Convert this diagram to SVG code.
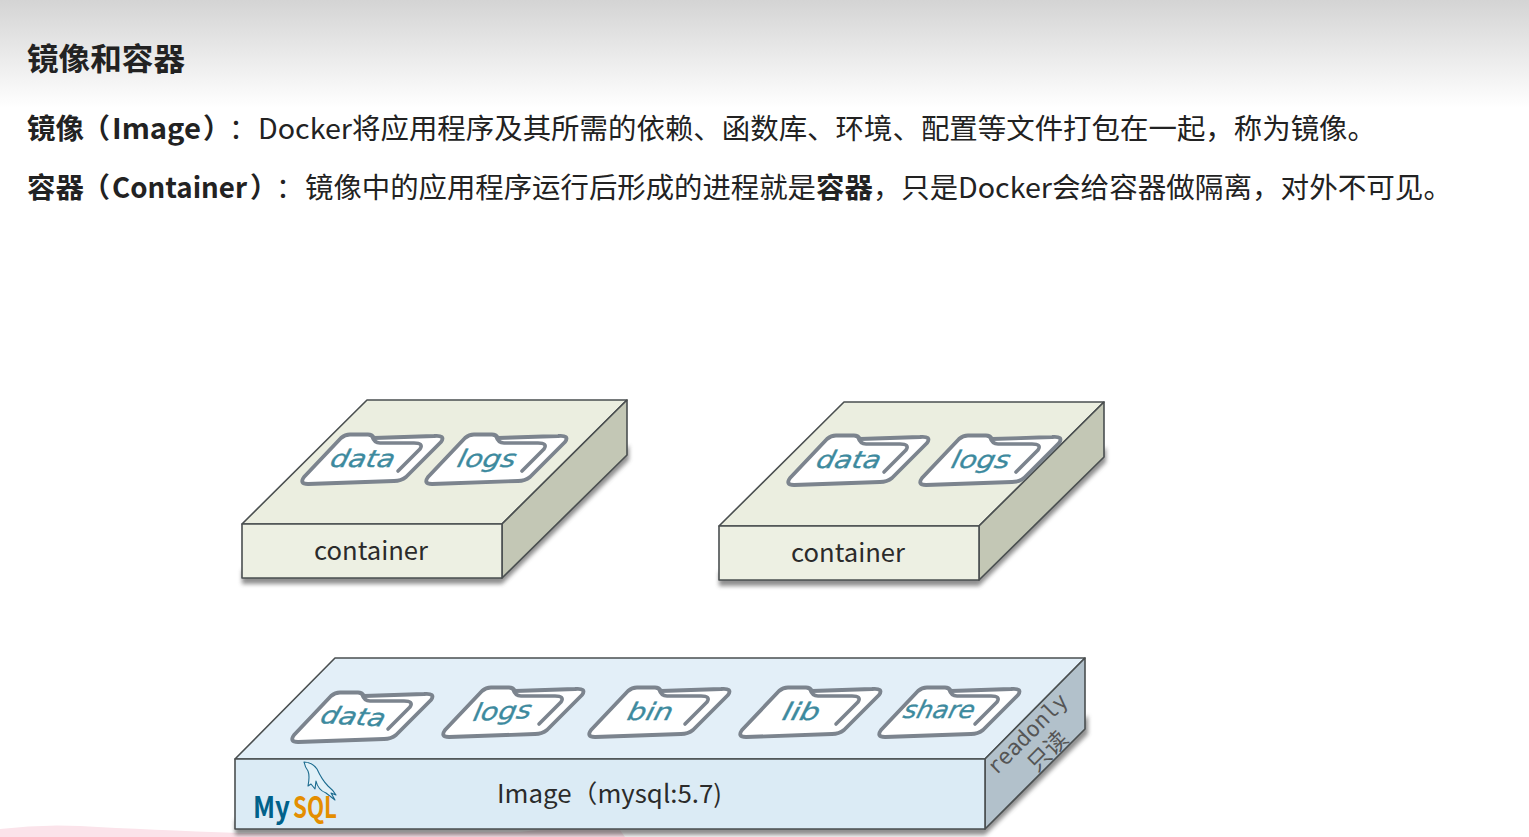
<svg xmlns="http://www.w3.org/2000/svg" width="1529" height="837" viewBox="0 0 1529 837">
<style>
text{font-family:"Noto Sans CJK SC","Noto Sans",sans-serif;fill:#2a2a2a}
.h{font-size:28px;fill:#222}
.b{font-weight:700;fill:#222}
.lbl{font-size:25px;fill:#2b2b2b}
.f{font-family:"DejaVu Sans",sans-serif;font-style:italic;font-size:24px;fill:#3d8a9e;stroke:#3d8a9e;stroke-width:.35}
.e{stroke:#4a4f50;stroke-width:1.6;stroke-linejoin:round}
.c-top{fill:#ebeee0}.c-front{fill:#edf0e3}.c-side{fill:#c3c7b5}
.i-top{fill:#e3eff8}.i-front{fill:#dbebf5}.i-side{fill:#b2c1cb}
</style>
<defs>
<linearGradient id="bg" x1="0" y1="0" x2="0" y2="1"><stop offset="0" stop-color="#d4d4d4"/><stop offset="1" stop-color="#ffffff"/></linearGradient>
<filter id="soft" x="-10%" y="-10%" width="120%" height="120%"><feGaussianBlur stdDeviation="0.7"/></filter>
<filter id="sh" x="-10%" y="-30%" width="120%" height="160%"><feGaussianBlur stdDeviation="2"/></filter>
<g id="folder" filter="url(#soft)">
<path d="M4,44 L41,5 Q45,1.500 50,1.500 L68,1.500 Q72,1.500 74,5 L134,3 Q146,2 141,9 L106,44 Q101,48 94,48 L8,51 Q-1,51 4,44 Z" fill="#fff" stroke="#7b848e" stroke-width="3.800" stroke-linejoin="round"/>
<path d="M72,3 Q74,10 80,10 L114,10 Q124,10 120,16 L98,38" fill="none" stroke="#7b848e" stroke-width="3.600" stroke-linecap="round" stroke-linejoin="round"/>
</g>
</defs>
<rect width="1529" height="837" fill="#fff"/>
<rect width="1529" height="108" fill="url(#bg)"/>
<path d="M0,829 Q40,824 80,826 Q150,830 240,833 L520,832 Q580,824 620,830 L625,837 L0,837 Z" fill="#fbe3ea"/>
<g id="heading">
<text class="b" x="27" y="70" font-size="31" textLength="158" lengthAdjust="spacingAndGlyphs">镜像和容器</text>
<text class="b" x="27" y="139" font-size="28" textLength="57" lengthAdjust="spacingAndGlyphs">镜像</text>
<text class="b" x="82" y="139" font-size="28">（</text>
<text class="b" x="112" y="139" font-size="28" textLength="89" lengthAdjust="spacingAndGlyphs">Image</text>
<text class="b" x="203" y="139" font-size="28">）</text>
<text class="h" x="229" y="139">：</text>
<text class="h" x="258" y="139" textLength="94" lengthAdjust="spacingAndGlyphs">Docker</text>
<text class="h" x="352" y="139" textLength="1024" lengthAdjust="spacingAndGlyphs">将应用程序及其所需的依赖、函数库、环境、配置等文件打包在一起，称为镜像。</text>
<text class="b" x="27" y="198" font-size="28" textLength="57" lengthAdjust="spacingAndGlyphs">容器</text>
<text class="b" x="82" y="198" font-size="28">（</text>
<text class="b" x="112" y="198" font-size="28" textLength="135" lengthAdjust="spacingAndGlyphs">Container</text>
<text class="b" x="250" y="198" font-size="28">）</text>
<text class="h" x="276" y="198">：</text>
<text class="h" x="305" y="198" textLength="511" lengthAdjust="spacingAndGlyphs">镜像中的应用程序运行后形成的进程就是</text>
<text class="h b" x="816" y="198" textLength="57" lengthAdjust="spacingAndGlyphs">容器</text>
<text class="h" x="873" y="198" textLength="85" lengthAdjust="spacingAndGlyphs">，只是</text>
<text class="h" x="958" y="198" textLength="94" lengthAdjust="spacingAndGlyphs">Docker</text>
<text class="h" x="1052" y="198" textLength="400" lengthAdjust="spacingAndGlyphs">会给容器做隔离，对外不可见。</text>
</g>
<g id="container-1">
<path d="M242,584 L502,584 L629,460 L629,445 L502,570 L242,570 Z" fill="#444" opacity=".6" filter="url(#sh)"/>
<path class="c-top e" d="M242,524 L367,400 L627,400 L502,524 Z"/>
<path class="c-side e" d="M502,524 L627,400 L627,455 L502,578 Z"/>
<rect class="c-front e" x="242" y="524" width="260" height="54"/>
<use href="#folder" x="300" y="433"/><use href="#folder" x="424" y="433"/>
<text class="f" textLength="64" lengthAdjust="spacingAndGlyphs" transform="translate(329,467) skewX(-14)">data</text>
<text class="f" textLength="58" lengthAdjust="spacingAndGlyphs" transform="translate(456,467) skewX(-14)">logs</text>
<text class="lbl" x="314" y="560" textLength="114" lengthAdjust="spacingAndGlyphs">container</text>
</g>
<g id="container-2">
<path d="M719,586 L979,586 L1106,462 L1106,447 L979,572 L719,572 Z" fill="#444" opacity=".6" filter="url(#sh)"/>
<path class="c-top e" d="M719,526 L844,402 L1104,402 L979,526 Z"/>
<path class="c-side e" d="M979,526 L1104,402 L1104,457 L979,580 Z"/>
<rect class="c-front e" x="719" y="526" width="260" height="54"/>
<use href="#folder" x="786" y="434"/><use href="#folder" x="918" y="434"/>
<text class="f" textLength="64" lengthAdjust="spacingAndGlyphs" transform="translate(815,468) skewX(-14)">data</text>
<text class="f" textLength="58" lengthAdjust="spacingAndGlyphs" transform="translate(950,468) skewX(-14)">logs</text>
<text class="lbl" x="791" y="562" textLength="114" lengthAdjust="spacingAndGlyphs">container</text>
</g>
<g id="image">
<path d="M235,835 L985,835 L1088,734 L1088,715 L985,820 L235,820 Z" fill="#444" opacity=".6" filter="url(#sh)"/>
<path class="i-top e" d="M235,759 L335,658 L1085,658 L985,759 Z"/>
<path class="i-side e" d="M985,759 L1085,658 L1085,729 L985,829 Z"/>
<rect class="i-front e" x="235" y="759" width="750" height="70"/>
<use href="#folder" x="290" y="691"/><use href="#folder" x="441" y="686"/><use href="#folder" x="587" y="686"/><use href="#folder" x="738" y="686"/><use href="#folder" x="877" y="686"/>
<text class="f" textLength="64" lengthAdjust="spacingAndGlyphs" transform="translate(319,723) rotate(3) skewX(-14)">data</text>
<text class="f" textLength="58" lengthAdjust="spacingAndGlyphs" transform="translate(472,721) rotate(-3) skewX(-14)">logs</text>
<text class="f" textLength="45" lengthAdjust="spacingAndGlyphs" transform="translate(626,720) skewX(-14)">bin</text>
<text class="f" textLength="37" lengthAdjust="spacingAndGlyphs" transform="translate(781,720) skewX(-14)">lib</text>
<text class="f" textLength="71" lengthAdjust="spacingAndGlyphs" font-size="20" transform="translate(902,718) skewX(-14)">share</text>
<text class="lbl" x="497" y="803" textLength="225" lengthAdjust="spacingAndGlyphs">Image（mysql:5.7)</text>
<text x="0" y="0" font-size="22" style="font-family:'DejaVu Sans Mono','Liberation Mono',monospace;fill:#555" transform="translate(996,776) rotate(-45)" textLength="104" lengthAdjust="spacingAndGlyphs">readonly</text>
<text x="0" y="0" font-size="23" style="fill:#555" transform="translate(1037,773) rotate(-45)">只读</text>
<path d="M304,762 Q312,762 317,769 Q322,780 328,786 Q333,790 336,795 L331,793 L335,800 L326,793 Q318,790 316,781 L315,789 L311,784 L308,786 Q310,776 308,771 Q305,767 304,762 Z" fill="#e2f1f8" stroke="#1b6b8f" stroke-width="1.100" stroke-linejoin="round"/>
<text x="253" y="818" font-size="30" font-weight="700" style="fill:#00618a" textLength="37" lengthAdjust="spacingAndGlyphs">My</text>
<text x="293" y="818" font-size="30" font-weight="700" style="fill:#e48e00" textLength="44" lengthAdjust="spacingAndGlyphs">SQL</text>
</g>
</svg>
